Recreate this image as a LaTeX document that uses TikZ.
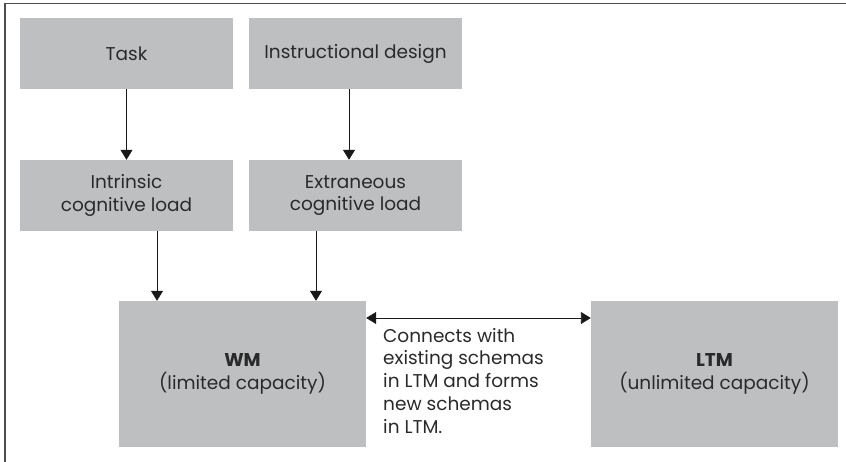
\documentclass[tikz,border=0pt]{standalone}
\usepackage{fontspec}
\setmainfont{Poppins}
\usetikzlibrary{arrows.meta}
\definecolor{boxgray}{HTML}{BEBFC1}
\definecolor{txtgray}{HTML}{2A2A2A}
\definecolor{framegray}{HTML}{4D4D4D}
\tikzset{
  box/.style={fill=boxgray, draw=none, minimum width=213pt, minimum height=71pt, inner sep=0pt,
    align=center, text=txtgray, font=\fontsize{18.5}{22.7}\selectfont},
  bigbox/.style={box, minimum width=247pt, minimum height=146pt},
  arr/.style={draw=black!90, line width=0.9pt, -{Triangle[length=10pt,width=12pt]}},
  darr/.style={draw=black!90, line width=0.9pt, {Triangle[length=10pt,width=12pt]}-{Triangle[length=10pt,width=12pt]}},
  frame/.style={draw=framegray, line width=1.2pt}
}
\begin{document}
\begin{tikzpicture}[x=1pt,y=-1pt]
\useasboundingbox (0,0) rectangle (846,462);
\coordinate (fa) at (5,3.5);
\coordinate (fb) at (846,3.5);
\coordinate (fc) at (5,462);
\draw[frame] (fb) -- (fa) -- (fc);

\node[box] (task) at (126.5,53.5) {Task};
\node[box] (instr) at (355.5,53.5) {Instructional design};
\node[box] (intr) at (126.5,195.5) {Intrinsic\\cognitive load};
\node[box] (extr) at (355.5,195.5) {Extraneous\\cognitive load};
\node[bigbox] (wm) at (242.5,374) {\textbf{WM}\\(limited capacity)};
\node[bigbox] (ltm) at (714.5,374) {\textbf{LTM}\\(unlimited capacity)};
\node[anchor=north west, align=left, inner sep=0pt, text=txtgray, font=\fontsize{18.5}{22.7}\selectfont]
  (lbl) at (383,328) {Connects with\\existing schemas\\in LTM and forms\\new schemas\\in LTM.};

\draw[arr] (task.south) -- (intr.north);
\draw[arr] ([xshift=-6.5pt]instr.south) -- ([xshift=-6.5pt]extr.north);
\draw[arr] ([xshift=30.5pt]intr.south) -- ([xshift=30.5pt]intr.south |- wm.north);
\draw[arr] ([xshift=-39.5pt]extr.south) -- ([xshift=-39.5pt]extr.south |- wm.north);
\draw[darr] ([yshift=56pt]wm.east) -- ([yshift=56pt]ltm.west);
\end{tikzpicture}
\end{document}
